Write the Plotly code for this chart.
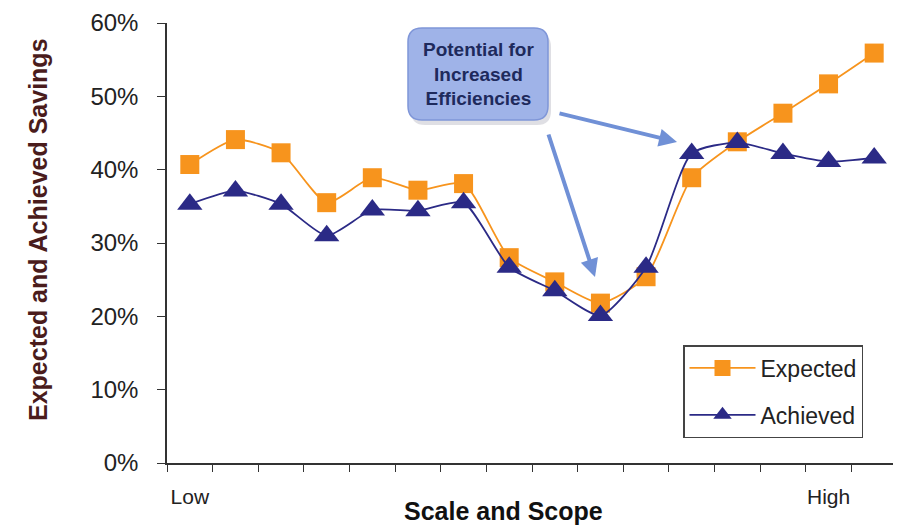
import plotly.graph_objects as go

categories = [str(i) for i in range(1, 17)]
tick_labels = ["Low", "", "", "", "", "", "", "", "", "", "", "", "", "", "High", ""]
y_ticks = [0, 10, 20, 30, 40, 50, 60]
y_tick_labels = ["0%", "10%", "20%", "30%", "40%", "50%", "60%"]
expected = [40.7, 44.1, 42.3, 35.5, 38.9, 37.2, 38.1, 28.0, 24.7, 21.8, 25.4, 38.9, 43.8, 47.7, 51.7, 55.9]
achieved = [35.3, 37.1, 35.3, 31.0, 34.5, 34.4, 35.5, 26.7, 23.5, 20.1, 26.7, 42.2, 43.7, 42.2, 41.1, 41.6]

ORANGE = "#F7941D"
NAVY = "#2B2A86"
FONT = "Liberation Sans, Arial, Helvetica, sans-serif"

# plot area in the photographed page: x 167..897, y 23..463
PL, PW, PB, PH = 167, 730, 463, 440


def px(x):
    return (x - PL) / PW


def py(y):
    return (PB - y) / PH


fig = go.Figure()
fig.add_trace(go.Scatter(
    x=categories, y=expected, name="Expected", mode="lines+markers", legendgroup="e",
    line=dict(color=ORANGE, width=1.8, shape="spline", smoothing=0.6),
    marker=dict(symbol="square", size=19, color=ORANGE),
))
fig.add_trace(go.Scatter(
    x=categories, y=achieved, name="Achieved", mode="lines+markers", legendgroup="a",
    line=dict(color=NAVY, width=1.8, shape="spline", smoothing=0.6),
    marker=dict(symbol="triangle-up", size=22, color=NAVY),
))


def rounded(x0, x1, y0, y1, rx, ry):
    return (f"M {x0+rx},{y1} L {x1-rx},{y1} Q {x1},{y1} {x1},{y1-ry} "
            f"L {x1},{y0+ry} Q {x1},{y0} {x1-rx},{y0} L {x0+rx},{y0} "
            f"Q {x0},{y0} {x0},{y0+ry} L {x0},{y1-ry} Q {x0},{y1} {x0+rx},{y1} Z")


x0, x1, y0, y1 = px(408), px(548), py(120), py(28)
rx, ry = 14 / PW, 14 / PH
dx, dy = 3 / PW, -5 / PH
fig.add_shape(type="path", path=rounded(x0 + dx, x1 + dx, y0 + dy, y1 + dy, rx, ry),
              xref="paper", yref="paper",
              fillcolor="rgba(110,110,130,0.22)", line=dict(width=0), layer="above")
fig.add_shape(type="path", path=rounded(x0, x1, y0, y1, rx, ry), xref="paper", yref="paper",
              fillcolor="#9FB3E8", line=dict(color="#7F96D8", width=1.5), layer="above")

fig.add_annotation(x=(x0 + x1) / 2, y=(y0 + y1) / 2, xref="paper", yref="paper",
                   xanchor="center", yanchor="middle",
                   text="<b>Potential for<br>Increased<br>Efficiencies</b>", showarrow=False,
                   font=dict(family=FONT, size=19, color="#1E2A5C"), align="center")

# arrows
fig.add_annotation(x=px(677), y=py(142), xref="paper", yref="paper", text="",
                   showarrow=True, ax=558 - 677, ay=113 - 142, axref="pixel", ayref="pixel",
                   arrowhead=2, arrowsize=0.9, arrowwidth=4, arrowcolor="#7090D6")
fig.add_annotation(x=px(595), y=py(277), xref="paper", yref="paper", text="",
                   showarrow=True, ax=548 - 595, ay=133 - 277, axref="pixel", ayref="pixel",
                   arrowhead=2, arrowsize=0.9, arrowwidth=4, arrowcolor="#7090D6")

# axis titles
fig.add_annotation(x=px(503), y=py(511), xref="paper", yref="paper",
                   xanchor="center", yanchor="middle",
                   text="<b>Scale and Scope</b>", showarrow=False,
                   font=dict(family=FONT, size=25, color="#111"))
fig.add_annotation(x=px(38), y=py(230), xref="paper", yref="paper",
                   xanchor="center", yanchor="middle",
                   text="<b>Expected and Achieved Savings</b>", showarrow=False, textangle=-90,
                   font=dict(family=FONT, size=25, color="#4A1C1C"))

# the page body has an 8px margin, so the figure is offset by 8px right and down
fig.update_layout(
    width=901, height=525,
    margin=dict(l=PL - 8, r=901 - (PL - 8) - PW, t=23 - 8, b=525 - (23 - 8) - PH, autoexpand=False),
    paper_bgcolor="white", plot_bgcolor="white",
    font=dict(family=FONT, color="#222"),
    legend=dict(x=px(683), y=py(345), xanchor="left", yanchor="top",
                bordercolor="#444", borderwidth=1.5, bgcolor="white",
                font=dict(size=23, family=FONT, color="#222"),
                itemwidth=66, tracegroupgap=14),
    showlegend=True,
)
fig.update_xaxes(
    type="category", range=[-0.5, 15.5], automargin=False,
    tickmode="array", tickvals=categories, ticktext=tick_labels, tickangle=0,
    tickson="boundaries", ticks="outside", ticklen=7, tickcolor="#333", tickwidth=1.2,
    ticklabelstandoff=14, ticklabeloverflow="allow",
    showline=True, linecolor="#333", linewidth=1.5, showgrid=False, zeroline=False,
    tickfont=dict(size=21, family=FONT, color="#222"),
)
fig.update_yaxes(
    range=[0, 60], automargin=False, tickmode="array", tickvals=y_ticks, ticktext=y_tick_labels,
    ticks="outside", ticklen=8, tickcolor="#333", tickwidth=1.2, ticklabelstandoff=14,
    ticklabeloverflow="allow",
    showline=True, linecolor="#333", linewidth=1.5, showgrid=False, zeroline=False,
    tickfont=dict(size=24, family=FONT, color="#222"),
)

fig.write_html("out.html")
